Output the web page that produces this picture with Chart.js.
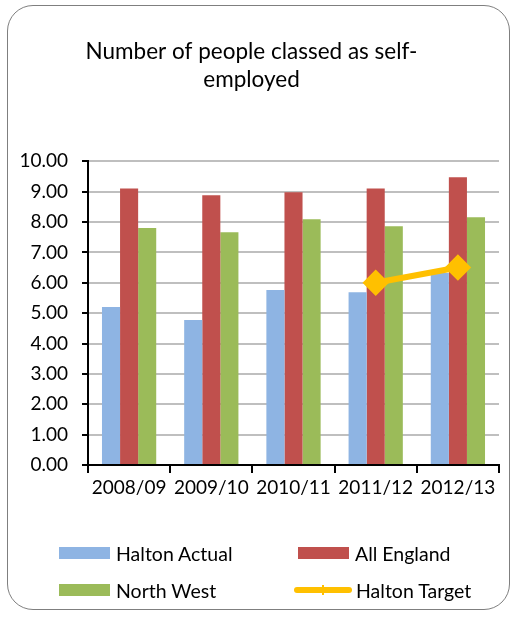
<!DOCTYPE html>
<html>
<head>
<meta charset="utf-8">
<script src="https://cdn.jsdelivr.net/npm/chart.js@4/dist/chart.umd.min.js"></script>
<style>
    html, body { margin: 0; padding: 0; background: #fff; }
    #wrap { position: relative; width: 514px; height: 617px; }
    #frame {
        position: absolute; left: 7px; top: 5px; width: 503px; height: 605px;
        border: 1px solid #7f7f7f; border-radius: 26px; box-sizing: border-box;
        pointer-events: none;
    }
    #legend {
        position: absolute; left: 59px; top: 540px; width: 440px;
        font-family: Lato, sans-serif; font-size: 19.5px; color: #000;
    }
    .item { position: absolute; display: flex; align-items: center; height: 26px; }
    .swatch { width: 51px; height: 12px; margin-right: 6px; }
    .lineswatch { position: relative; width: 58px; height: 6px; border-radius: 3px; margin-right: 4px; }
    .lineswatch i { position: absolute; left: 28px; top: -2px; width: 2px; height: 10px; background: inherit; }
</style>
</head>
<body>
<div id="wrap">
    <canvas id="chart" width="514" height="617"></canvas>
    <div id="frame"></div>
    <div id="legend"></div>
</div>
<script>
const years = ['2008/09', '2009/10', '2010/11', '2011/12', '2012/13'];
const haltonActual = [5.20, 4.77, 5.76, 5.69, 6.32];
const allEngland = [9.10, 8.88, 8.98, 9.10, 9.47];
const northWest = [7.80, 7.66, 8.09, 7.86, 8.16];
const haltonTarget = [null, null, null, 6.0, 6.5];

const FONT = 'Lato, sans-serif';

const ctx = document.getElementById('chart').getContext('2d');
const chart = new Chart(ctx, {
    type: 'bar',
    data: {
        labels: years,
        datasets: [
            { label: 'Halton Actual', data: haltonActual, backgroundColor: '#8EB4E3', order: 1 },
            { label: 'All England', data: allEngland, backgroundColor: '#C0504D', order: 1 },
            { label: 'North West', data: northWest, backgroundColor: '#9BBB59', order: 1 },
            {
                label: 'Halton Target', data: haltonTarget, type: 'line',
                borderColor: '#FFC000', backgroundColor: '#FFC000', borderWidth: 6,
                pointStyle: 'rectRot', pointRadius: 9, pointHoverRadius: 9,
                order: 0, spanGaps: false
            }
        ]
    },
    options: {
        responsive: false,
        animation: false,
        categoryPercentage: 0.66,
        barPercentage: 1.0,
        layout: { padding: { top: 24, right: 11, bottom: 112, left: 0 } },
        plugins: {
            legend: { display: false },
            tooltip: { enabled: false },
            title: {
                display: true,
                text: ['Number of people classed as self-', 'employed'],
                color: '#000',
                font: { family: FONT, size: 22.5, weight: 'normal', lineHeight: 1.25 },
                padding: { top: 14, bottom: 67 }
            }
        },
        scales: {
            x: {
                afterFit: function(scale) { scale.height = 40; },
                grid: { drawOnChartArea: false, tickLength: 8, tickColor: '#000', lineWidth: 2 },
                border: { color: '#000', width: 2 },
                ticks: { color: '#000', font: { family: FONT, size: 19 }, padding: 3 }
            },
            y: {
                min: 0, max: 10,
                afterFit: function(scale) { scale.width = 88; },
                grid: { color: '#BFBFBF', lineWidth: 2, tickLength: 6, tickColor: '#000' },
                border: { color: '#000', width: 2 },
                ticks: {
                    stepSize: 1, color: '#000', padding: 14,
                    font: { family: FONT, size: 19 },
                    callback: function(v) { return v.toFixed(2); }
                }
            }
        }
    }
});

// legend laid out in two columns
const legend = document.getElementById('legend');
const spots = [[0, 0], [239, 0], [0, 37], [235, 37]];
chart.data.datasets.forEach(function(ds, i) {
    const item = document.createElement('div');
    item.className = 'item';
    item.style.left = spots[i][0] + 'px';
    item.style.top = spots[i][1] + 'px';
    const sw = document.createElement('span');
    if (ds.type === 'line') {
        sw.className = 'lineswatch';
        sw.style.background = ds.borderColor;
        sw.appendChild(document.createElement('i'));
    } else {
        sw.className = 'swatch';
        sw.style.background = ds.backgroundColor;
    }
    item.appendChild(sw);
    item.appendChild(document.createTextNode(ds.label));
    legend.appendChild(item);
});
</script>
</body>
</html>
